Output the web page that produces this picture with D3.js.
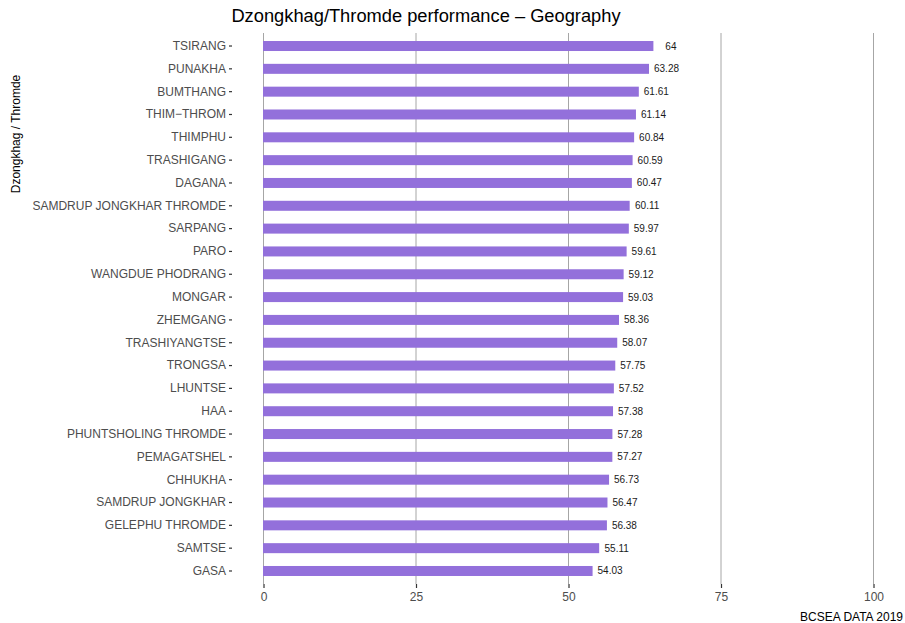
<!DOCTYPE html>
<html>
<head>
<meta charset="utf-8">
<script src="https://cdn.jsdelivr.net/npm/d3@7"></script>
<style>
  html, body { margin: 0; padding: 0; background: #fff; }
  svg { display: block; font-family: "Liberation Sans", Arial, Helvetica, sans-serif; }
</style>
</head>
<body>
<svg id="chart" width="905" height="623"></svg>
<script>
const categories = ["TSIRANG","PUNAKHA","BUMTHANG","THIM\u2212THROM","THIMPHU","TRASHIGANG","DAGANA","SAMDRUP JONGKHAR THROMDE","SARPANG","PARO","WANGDUE PHODRANG","MONGAR","ZHEMGANG","TRASHIYANGTSE","TRONGSA","LHUNTSE","HAA","PHUNTSHOLING THROMDE","PEMAGATSHEL","CHHUKHA","SAMDRUP JONGKHAR","GELEPHU THROMDE","SAMTSE","GASA"];
const values = [64, 63.28, 61.61, 61.14, 60.84, 60.59, 60.47, 60.11, 59.97, 59.61, 59.12, 59.03, 58.36, 58.07, 57.75, 57.52, 57.38, 57.28, 57.27, 56.73, 56.47, 56.38, 55.11, 54.03];
const valueLabels = ["64","63.28","61.61","61.14","60.84","60.59","60.47","60.11","59.97","59.61","59.12","59.03","58.36","58.07","57.75","57.52","57.38","57.28","57.27","56.73","56.47","56.38","55.11","54.03"];
const xTicks = [0, 25, 50, 75, 100];
const titleText = "Dzongkhag/Thromde performance \u2013 Geography";
const yTitle = "Dzongkhag / Thromde";
const caption = "BCSEA DATA 2019";

const svg = d3.select("#chart");
const panel = {left: 263, right: 873, top: 33, bottom: 584};

const x = d3.scaleLinear().domain([0, 100]).range([panel.left, panel.right]);
const y = d3.scaleBand().domain(categories).range([34.6, 582.4]).paddingInner(0.562).paddingOuter(0.281);

// gridlines
svg.append("g").selectAll("line").data(xTicks).join("line")
  .attr("x1", d => x(d) + 0.5).attr("x2", d => x(d) + 0.5)
  .attr("y1", panel.top).attr("y2", panel.bottom)
  .attr("stroke", "#a6a6a6").attr("stroke-width", 1);

// bars
svg.append("g").selectAll("rect").data(values).join("rect")
  .attr("x", x(0))
  .attr("y", (d, i) => y(categories[i]))
  .attr("width", d => x(d) - x(0))
  .attr("height", y.bandwidth())
  .attr("fill", "#9370DB");

// value labels
svg.append("g").selectAll("text").data(values).join("text")
  .attr("x", d => x(d) + 17.5)
  .attr("y", (d, i) => y(categories[i]) + y.bandwidth() / 2)
  .attr("dy", "0.35em")
  .attr("text-anchor", "middle")
  .attr("font-size", 10)
  .attr("fill", "#1a1a1a")
  .text((d, i) => valueLabels[i]);

// y axis
const yAxis = d3.axisLeft(y).tickSize(3).tickPadding(3);
const gy = svg.append("g").attr("transform", `translate(${panel.left - 31},0)`).call(yAxis);
gy.select(".domain").remove();
gy.selectAll(".tick line").attr("stroke", "#333").attr("stroke-width", 1.2);
gy.selectAll(".tick text").attr("font-size", 12).attr("fill", "#4d4d4d").attr("font-family", null);

// x axis
const xAxis = d3.axisBottom(x).tickValues(xTicks).tickSize(4).tickPadding(4).tickFormat(d3.format("d"));
const gx = svg.append("g").attr("transform", `translate(0.5,${panel.bottom})`).call(xAxis);
gx.select(".domain").remove();
gx.selectAll(".tick line").attr("stroke", "#333").attr("stroke-width", 1.2);
gx.selectAll(".tick text").attr("font-size", 12).attr("fill", "#4d4d4d").attr("font-family", null);

// title
svg.append("text")
  .attr("x", 426).attr("y", 22)
  .attr("text-anchor", "middle")
  .attr("font-size", 18.3)
  .attr("fill", "#000")
  .text(titleText);

// y title
svg.append("text")
  .attr("transform", "translate(20,134) rotate(-90)")
  .attr("text-anchor", "middle")
  .attr("font-size", 12)
  .attr("fill", "#000")
  .text(yTitle);

// caption
svg.append("text")
  .attr("x", 903).attr("y", 621)
  .attr("text-anchor", "end")
  .attr("font-size", 12)
  .attr("fill", "#000")
  .text(caption);
</script>
</body>
</html>
